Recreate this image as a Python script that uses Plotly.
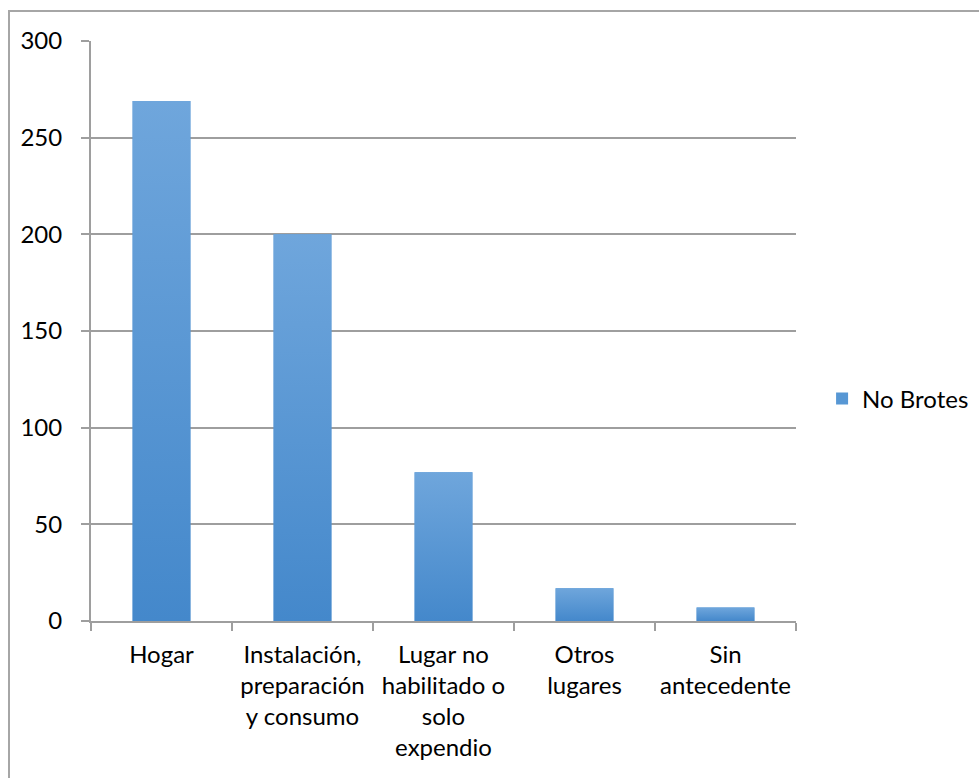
import plotly.graph_objects as go

# Casos por lugar de consumo
categories = [
    "Hogar",
    "Instalación,<br>preparación<br>y consumo",
    "Lugar no<br>habilitado o<br>solo<br>expendio",
    "Otros<br>lugares",
    "Sin<br>antecedente",
]
values = [269, 200, 77, 17, 7]
series_name = "No Brotes"

y_ticks = [0, 50, 100, 150, 200, 250, 300]

FONT = "Lato"
FONT_SIZE = 24
GRID = "#9e9e9e"
BAR_TOP = "#6fa6dc"
BAR_BOTTOM = "#4488cb"
BAR_GAP = 0.59
half = (1 - BAR_GAP) / 2

fig = go.Figure()

# Base bars (categorical axis, legend entry)
fig.add_trace(go.Bar(
    x=categories, y=values, name=series_name,
    marker=dict(color="#5797d4", line=dict(width=0)),
    hoverinfo="x+y",
))

# Vertical gradient fill laid over each bar
for i, v in enumerate(values):
    fig.add_trace(go.Scatter(
        x=[i - half, i + half, i + half, i - half, i - half],
        y=[0, 0, v, v, 0],
        xaxis="x2", yaxis="y",
        mode="lines", line=dict(width=0),
        fill="toself",
        fillgradient=dict(type="vertical",
                          colorscale=[[0, BAR_BOTTOM], [1, BAR_TOP]]),
        showlegend=False, hoverinfo="skip",
    ))

fig.update_layout(
    width=979, height=778,
    margin=dict(l=91, r=183, t=41, b=157, autoexpand=False),
    paper_bgcolor="white", plot_bgcolor="white",
    font=dict(family=FONT, size=FONT_SIZE, color="black"),
    bargap=BAR_GAP,
    showlegend=True,
    legend=dict(x=1.037, y=0.383, xanchor="left", yanchor="middle",
                font=dict(family=FONT, size=FONT_SIZE, color="black"),
                bgcolor="rgba(0,0,0,0)"),
    xaxis=dict(
        type="category", tickson="boundaries", tickangle=0,
        automargin=False,
        ticks="outside", ticklen=8, tickcolor=GRID, tickwidth=2,
        showline=True, linecolor=GRID, linewidth=2,
        showgrid=False, ticklabelstandoff=11,
        tickfont=dict(family=FONT, size=FONT_SIZE, color="black"),
    ),
    xaxis2=dict(overlaying="x", range=[-0.5, 4.5], visible=False),
    yaxis=dict(
        range=[0, 300], tickvals=y_ticks, automargin=False,
        ticks="outside", ticklen=8, tickcolor=GRID, tickwidth=2,
        showline=True, linecolor=GRID, linewidth=2,
        showgrid=True, gridcolor=GRID, gridwidth=2,
        zeroline=False, ticklabelstandoff=14,
        tickfont=dict(family=FONT, size=FONT_SIZE, color="black"),
    ),
    shapes=[dict(type="rect", xref="paper", yref="paper",
                 x0=-82 / 705, y0=-0.4, x1=1.4, y1=610 / 580,
                 line=dict(color="#a6a6a6", width=2), layer="below")],
)

fig.write_html("out.html")
